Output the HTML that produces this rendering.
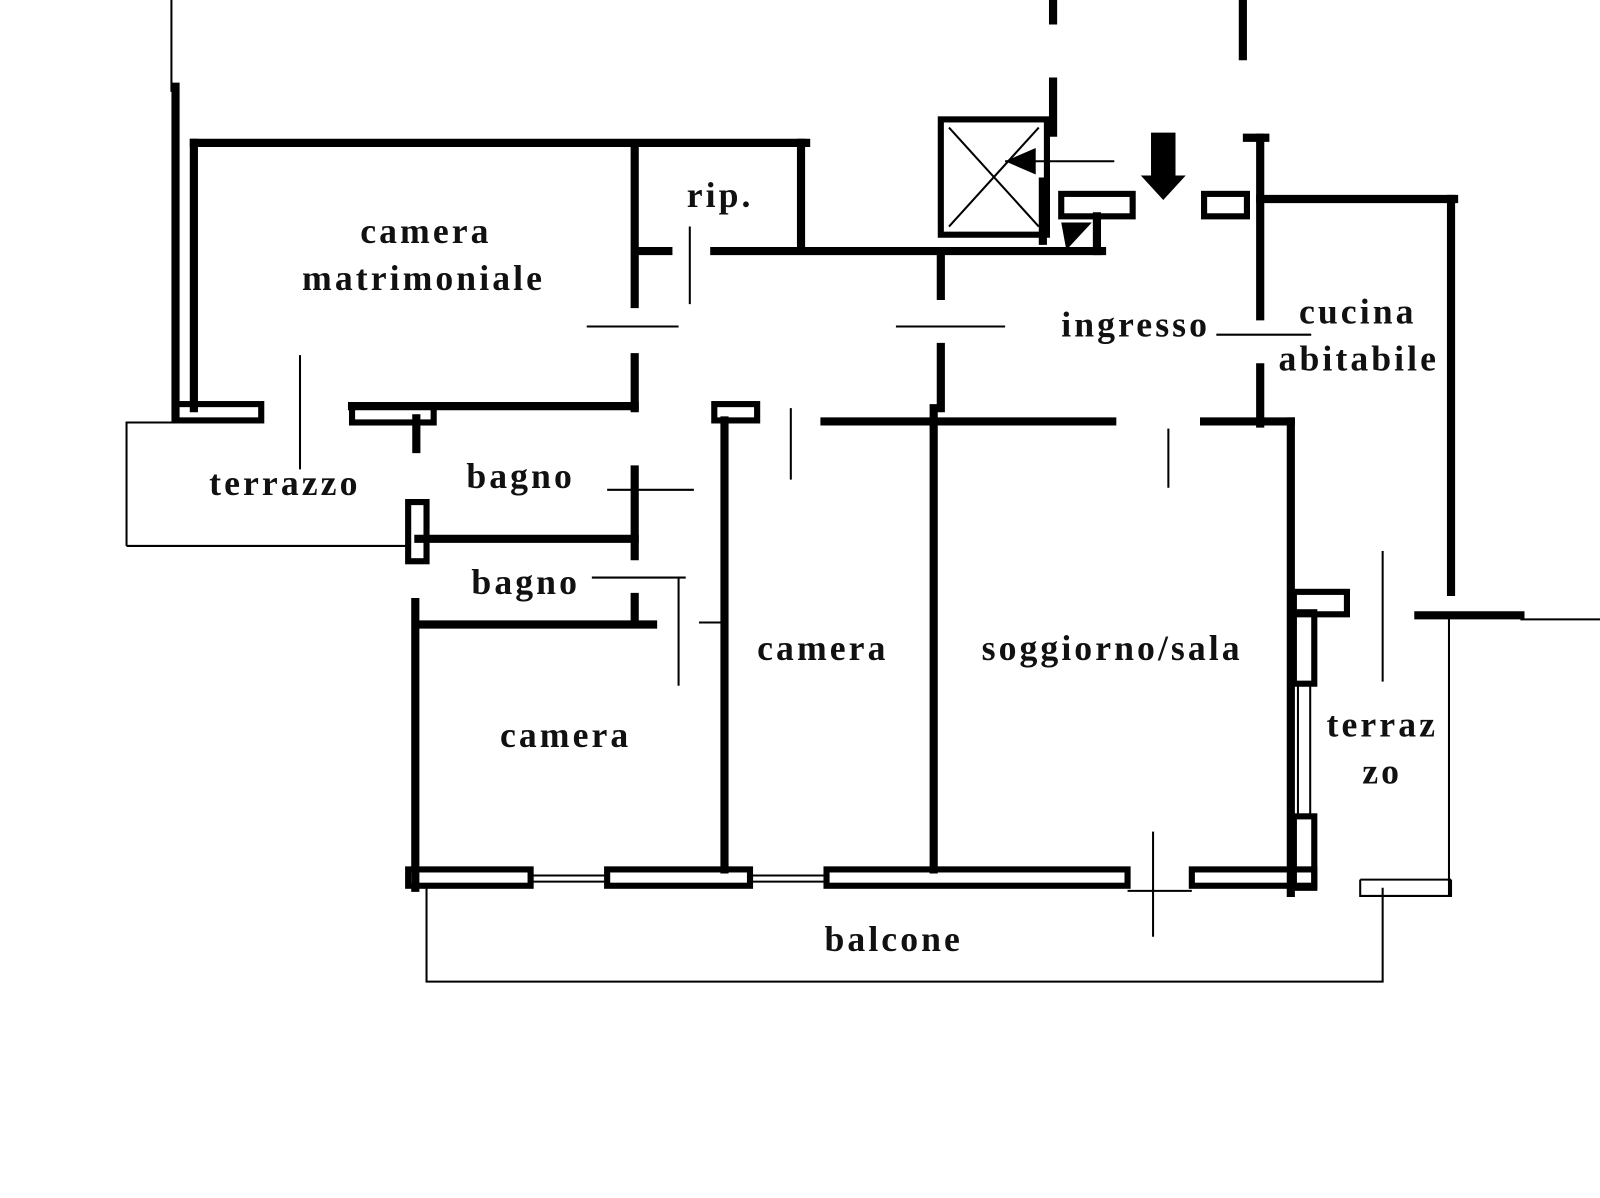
<!DOCTYPE html>
<html><head><meta charset="utf-8"><style>
html,body{margin:0;padding:0;background:#fff;}
svg{display:block}
text{font-family:"Liberation Serif",serif;font-weight:bold;font-size:35px;letter-spacing:3px;fill:#111;}
</style></head><body>
<svg width="1600" height="1198" viewBox="0 0 1568 1174" preserveAspectRatio="none">
<g stroke="#000" stroke-width="8" fill="none" stroke-linecap="square">
<line x1="172" y1="85" x2="172" y2="410"/>
<line x1="190" y1="140" x2="790" y2="140"/>
<line x1="190" y1="140" x2="190" y2="400"/>
<line x1="785" y1="140" x2="785" y2="245"/>
<line x1="700" y1="246" x2="1080" y2="246"/>
<line x1="626" y1="246" x2="655" y2="246"/>
<line x1="622" y1="145" x2="622" y2="298"/>
<line x1="622" y1="350" x2="622" y2="400"/>
<line x1="622" y1="460" x2="622" y2="545"/>
<line x1="622" y1="585" x2="622" y2="610"/>
<line x1="345" y1="398" x2="622" y2="398"/>
<rect x="172" y="396" width="84" height="16" stroke-width="6"/>
<rect x="345" y="398" width="80" height="16" stroke-width="6"/>
<line x1="408" y1="410" x2="408" y2="440"/>
<line x1="410" y1="528" x2="622" y2="528"/>
<rect x="400" y="492" width="18" height="58" stroke-width="6"/>
<line x1="407" y1="590" x2="407" y2="870"/>
<line x1="410" y1="612" x2="640" y2="612"/>
<line x1="710" y1="412" x2="710" y2="852"/>
<rect x="700" y="396" width="42" height="16" stroke-width="6"/>
<line x1="915" y1="400" x2="915" y2="852"/>
<line x1="922" y1="250" x2="922" y2="290"/>
<line x1="922" y1="340" x2="922" y2="400"/>
<line x1="808" y1="413" x2="1090" y2="413"/>
<line x1="1180" y1="413" x2="1265" y2="413"/>
<line x1="1265" y1="413" x2="1265" y2="875"/>
<rect x="400" y="852" width="120" height="16" stroke-width="6"/>
<rect x="595" y="852" width="140" height="16" stroke-width="6"/>
<rect x="810" y="852" width="295" height="16" stroke-width="6"/>
<rect x="1168" y="852" width="120" height="16" stroke-width="6"/>
<line x1="1235" y1="135" x2="1235" y2="310"/>
<line x1="1235" y1="360" x2="1235" y2="415"/>
<line x1="1235" y1="195" x2="1425" y2="195"/>
<line x1="1422" y1="195" x2="1422" y2="580"/>
<line x1="1390" y1="603" x2="1490" y2="603"/>
<rect x="1268" y="580" width="52" height="22" stroke-width="6"/>
<rect x="1268" y="600" width="20" height="70" stroke-width="6"/>
<rect x="1268" y="800" width="20" height="70" stroke-width="6"/>
<rect x="1180" y="190" width="42" height="22" stroke-width="6"/>
<rect x="1040" y="190" width="70" height="22" stroke-width="6"/>
<line x1="1032" y1="0" x2="1032" y2="20"/>
<line x1="1032" y1="80" x2="1032" y2="130"/>
<line x1="1218" y1="0" x2="1218" y2="55"/>
<line x1="1222" y1="135" x2="1240" y2="135"/>
<line x1="1022" y1="178" x2="1022" y2="236"/>
<line x1="1075" y1="212" x2="1075" y2="246"/>
<rect x="922" y="117" width="104" height="113" stroke-width="6"/>
</g>
<g stroke="#000" stroke-width="2" fill="none">
<line x1="930" y1="125" x2="1018" y2="222"/>
<line x1="1018" y1="125" x2="930" y2="222"/>
<line x1="985" y1="158" x2="1092" y2="158"/>
<line x1="168" y1="0" x2="168" y2="90"/>
<polyline points="124,535 124,414 172,414"/>
<line x1="124" y1="535" x2="400" y2="535"/>
<line x1="294" y1="348" x2="294" y2="460"/>
<line x1="575" y1="320" x2="665" y2="320"/>
<line x1="878" y1="320" x2="985" y2="320"/>
<line x1="1192" y1="328" x2="1285" y2="328"/>
<line x1="676" y1="222" x2="676" y2="298"/>
<line x1="775" y1="400" x2="775" y2="470"/>
<line x1="1145" y1="420" x2="1145" y2="478"/>
<line x1="595" y1="480" x2="680" y2="480"/>
<line x1="580" y1="566" x2="672" y2="566"/>
<line x1="665" y1="566" x2="665" y2="672"/>
<line x1="685" y1="610" x2="710" y2="610"/>
<line x1="1355" y1="540" x2="1355" y2="668"/>
<line x1="1420" y1="605" x2="1420" y2="878"/>
<polyline points="1333,862 1333,878 1422,878 1422,862"/>
<line x1="1333" y1="862" x2="1422" y2="862"/>
<line x1="1490" y1="607" x2="1568" y2="607"/>
<line x1="1130" y1="815" x2="1130" y2="918"/>
<polyline points="418,870 418,962 1355,962 1355,870"/>
<line x1="520" y1="858" x2="595" y2="858"/>
<line x1="520" y1="864" x2="595" y2="864"/>
<line x1="735" y1="858" x2="810" y2="858"/>
<line x1="735" y1="864" x2="810" y2="864"/>
<line x1="1272" y1="670" x2="1272" y2="800"/>
<line x1="1284" y1="670" x2="1284" y2="800"/>
<line x1="1105" y1="873" x2="1168" y2="873"/>
</g>
<polygon points="1128,130 1152,130 1152,172 1162,172 1140,196 1118,172 1128,172" fill="#000"/>
<polygon points="1040,218 1070,218 1045,245" fill="#000"/>
<polygon points="985,158 1015,145 1015,171" fill="#000"/>
<text x="353" y="238">camera</text>
<text x="296" y="284">matrimoniale</text>
<text x="673" y="203">rip.</text>
<text x="1040" y="330">ingresso</text>
<text x="1273" y="317">cucina</text>
<text x="1253" y="363">abitabile</text>
<text x="205" y="485">terrazzo</text>
<text x="457" y="478">bagno</text>
<text x="462" y="582">bagno</text>
<text x="742" y="647">camera</text>
<text x="962" y="647">soggiorno/sala</text>
<text x="490" y="732">camera</text>
<text x="1300" y="722">terraz</text>
<text x="1335" y="768">zo</text>
<text x="808" y="932">balcone</text>
</svg>
</body></html>
